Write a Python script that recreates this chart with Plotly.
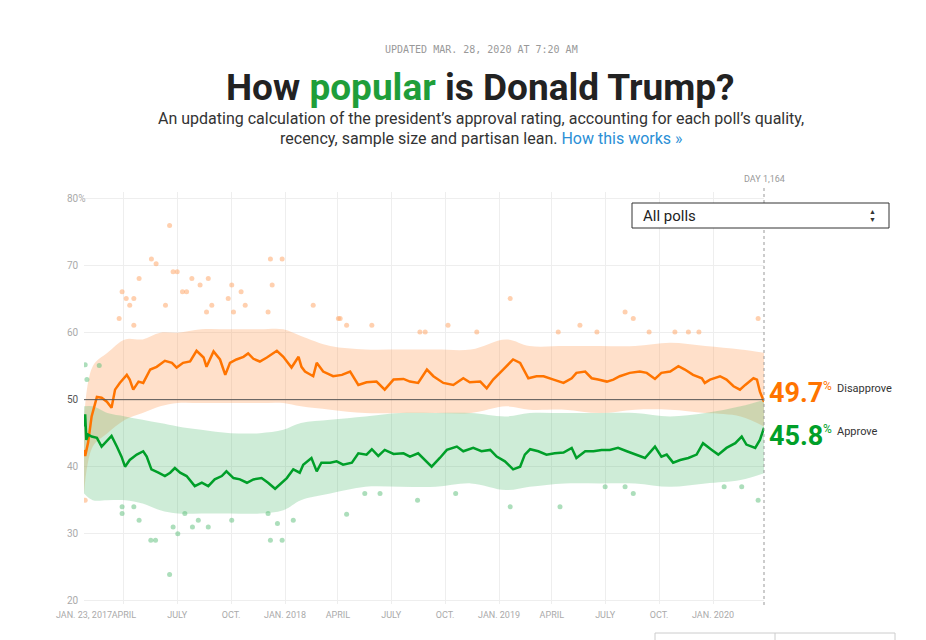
import pandas as pd
import plotly.graph_objects as go

# ---------------- data ----------------
START = "2017-01-23"

disapprove_day = [0, 2, 7, 13, 22, 30, 39, 47, 53, 61, 73, 78, 84, 93, 101, 113, 124, 138, 150, 158,
                  169, 181, 192, 204, 209, 221, 232, 241, 249, 260, 272, 280, 289, 300, 312, 329, 340,
                  354, 366, 371, 377, 391, 397, 408, 425, 440, 454, 468, 482, 499, 513, 528, 545, 556,
                  570, 585, 596, 613, 630, 647, 658, 676, 687, 698, 715, 732, 744, 758, 772, 784, 801,
                  818, 832, 840, 855, 866, 877, 892, 903, 914, 931, 948, 960, 974, 985, 1000, 1014,
                  1025, 1039, 1054, 1059, 1068, 1085, 1096, 1108, 1119, 1128, 1142, 1148, 1153, 1160]
disapprove_val = [42.5, 41.6, 43.6, 47.5, 50.4, 50.3, 49.7, 48.8, 51.5, 52.5, 53.7, 53.0, 51.5, 52.7,
                  52.5, 54.5, 54.9, 55.8, 55.5, 54.8, 55.5, 55.7, 57.3, 56.3, 54.9, 57.2, 56.0, 53.7,
                  55.5, 56.0, 56.4, 56.9, 56.1, 55.7, 56.3, 57.3, 56.4, 54.8, 56.4, 54.9, 54.2, 53.5,
                  55.5, 54.2, 53.5, 53.7, 54.2, 52.2, 52.6, 52.7, 51.5, 53.0, 53.1, 52.7, 52.5, 54.5,
                  53.5, 52.5, 52.2, 53.2, 52.6, 52.7, 51.7, 53.0, 54.5, 56.0, 55.5, 53.2, 53.5, 53.5,
                  53.0, 52.5, 53.2, 54.0, 54.2, 53.2, 53.0, 52.7, 53.0, 53.5, 54.0, 54.2, 54.0, 53.1,
                  54.0, 54.2, 55.0, 54.5, 53.7, 53.2, 52.5, 53.0, 53.5, 53.0, 52.0, 51.5, 52.2, 53.2,
                  53.0, 51.2, 49.7]

approve_day = [0, 2, 4, 7, 13, 22, 30, 39, 47, 56, 64, 70, 78, 90, 101, 107, 115, 127, 138, 147, 155,
               164, 175, 189, 201, 212, 223, 235, 243, 255, 266, 278, 289, 303, 314, 326, 334, 346,
               357, 368, 374, 388, 397, 405, 420, 431, 442, 457, 468, 482, 491, 502, 513, 528, 545,
               556, 570, 585, 593, 607, 619, 636, 647, 664, 678, 693, 704, 718, 732, 744, 752, 761,
               775, 789, 803, 818, 832, 840, 855, 869, 883, 897, 911, 926, 943, 957, 974, 985, 994,
               1005, 1017, 1031, 1045, 1056, 1071, 1082, 1096, 1111, 1122, 1130, 1145, 1153, 1160]
approve_val = [46.0, 47.8, 44.0, 44.8, 44.5, 44.3, 43.0, 43.8, 44.6, 43.0, 41.5, 40.0, 41.0, 41.8, 42.3,
               41.5, 39.6, 39.1, 38.6, 39.1, 39.8, 39.1, 38.6, 37.1, 37.6, 37.1, 38.1, 38.6, 39.3,
               38.3, 38.1, 37.6, 38.1, 38.3, 37.6, 36.7, 37.3, 38.3, 39.6, 39.1, 40.3, 41.3, 39.3,
               40.6, 40.6, 40.8, 40.3, 40.6, 42.0, 41.8, 42.6, 41.6, 42.5, 41.9, 42.0, 41.5, 42.0,
               40.6, 40.0, 41.3, 42.5, 43.0, 42.3, 42.8, 42.3, 42.5, 41.5, 40.8, 39.6, 40.0, 41.8,
               42.6, 42.3, 41.8, 42.0, 42.1, 42.8, 41.3, 42.3, 42.3, 42.5, 42.5, 42.8, 42.3, 41.8,
               41.3, 43.0, 41.5, 41.8, 40.6, 41.0, 41.3, 41.8, 43.5, 42.5, 41.8, 42.8, 43.5, 44.5,
               43.3, 42.8, 44.0, 45.8]

# envelope of the poll clouds
band_day = [0, 15, 40, 70, 100, 130, 160, 200, 250, 300, 340, 370, 420, 480, 540, 600, 660, 720,
            760, 820, 880, 940, 1000, 1060, 1120, 1160]
dis_band_hi = [47, 55, 57, 59, 59, 60, 60, 60.5, 60.5, 60.5, 60.5, 59.5, 58, 57.5, 57.5, 57.5, 57.5,
               59, 58, 58, 58, 58, 58.5, 58, 57.5, 57]
dis_band_lo = [36, 43, 45, 47, 48, 49, 49.5, 49.5, 49.5, 49.5, 49.5, 49, 48.5, 48, 48, 48, 48, 49,
               48.5, 48.5, 48, 48.5, 48.5, 48, 47.5, 46]
app_band_hi = [49, 49, 48, 47.5, 47, 46.5, 46, 45.5, 45, 45, 45.5, 46.5, 47, 47.5, 48, 48, 48, 47.5,
               48, 48, 48, 48, 47.5, 48, 49, 50]
app_band_lo = [36, 35, 35, 35, 34.5, 33.5, 33, 33, 33, 33, 33.5, 35, 36, 37, 37, 37, 37.5, 36.5, 37,
               37.5, 37.5, 37.5, 37, 37.5, 38, 39]

# individual outlying polls
dis_dot_day = [146, 115, 123, 152, 159, 94, 184, 212, 198, 252, 318, 338, 321, 65, 168, 175, 268, 72,
               85, 246, 78, 139, 218, 275, 391, 60, 85, 209, 255, 314, 434, 727, 437, 923, 448, 491,
               621, 846, 670, 809, 875, 573, 582, 937, 1150, 964, 1008, 1031, 1049, 2]
dis_dot_val = [76.0, 71.0, 70.3, 69.1, 69.1, 68.1, 68.1, 68.1, 67.1, 67.1, 71.0, 71.0, 67.1, 66.1,
               66.1, 66.1, 66.1, 65.1, 65.1, 65.1, 64.1, 64.1, 64.1, 64.1, 64.1, 62.1, 61.1, 63.1,
               63.1, 63.1, 62.1, 65.1, 62.1, 63.1, 61.1, 61.1, 61.1, 61.1, 60.1, 60.1, 60.1, 60.1,
               60.1, 62.1, 62.1, 60.1, 60.1, 60.1, 60.1, 35.0]
app_dot_day = [146, 114, 122, 160, 152, 185, 212, 94, 252, 318, 338, 330, 357, 65, 85, 65, 172, 195,
               314, 448, 569, 727, 812, 479, 505, 634, 889, 923, 1150, 937, 1092, 1122, 2, 26, 5]
app_dot_val = [23.9, 29.0, 29.0, 30.0, 31.0, 31.0, 31.0, 32.0, 32.0, 29.0, 29.0, 31.5, 32.0, 34.0,
               34.0, 33.0, 33.0, 32.0, 33.0, 32.9, 35.0, 34.0, 34.0, 36.0, 36.0, 36.0, 37.0, 37.0,
               35.0, 36.0, 37.0, 37.0, 55.2, 55.1, 53.0]

tick_dates = ["2017-01-23", "2017-04-01", "2017-07-01", "2017-10-01", "2018-01-01", "2018-04-01",
              "2018-07-01", "2018-10-01", "2019-01-01", "2019-04-01", "2019-07-01", "2019-10-01",
              "2020-01-01"]
tick_text = ["JAN. 23, 2017", "APRIL", "JULY", "OCT.", "JAN. 2018", "APRIL", "JULY", "OCT.",
             "JAN. 2019", "APRIL", "JULY", "OCT.", "JAN. 2020"]
y_ticks = [20, 30, 40, 50, 60, 70, 80]

# ---------------- helpers ----------------
base = pd.Timestamp(START)
def to_dates(days):
    return base + pd.to_timedelta(days, unit="D")

ORANGE = "#ff7400"
GREEN = "#009f29"

FIG_W, FIG_H, OFF = 910, 632, 8
L, R, T = 76, 154, 184
PW = FIG_W - L - R
PH = 412
B = FIG_H - T - PH

def PX(xp):
    return (xp - OFF - L) / PW

def PY(yp):
    return (FIG_H - B - (yp - OFF)) / PH

fig = go.Figure()

# clouds
for hi, lo, col in [(dis_band_hi, dis_band_lo, "rgba(255,160,95,0.33)"),
                    (app_band_hi, app_band_lo, "rgba(80,185,110,0.28)")]:
    bd = to_dates(band_day)
    fig.add_trace(go.Scatter(x=bd, y=lo, mode="lines", line=dict(width=0, shape="spline"),
                             hoverinfo="skip", showlegend=False))
    fig.add_trace(go.Scatter(x=bd, y=hi, mode="lines", line=dict(width=0, shape="spline"),
                             fill="tonexty", fillcolor=col, hoverinfo="skip", showlegend=False))

fig.add_trace(go.Scatter(x=to_dates(dis_dot_day), y=dis_dot_val, mode="markers",
                         marker=dict(size=5, color="rgba(255,170,110,0.55)"),
                         hoverinfo="skip", showlegend=False))
fig.add_trace(go.Scatter(x=to_dates(app_dot_day), y=app_dot_val, mode="markers",
                         marker=dict(size=5, color="rgba(90,190,120,0.5)"),
                         hoverinfo="skip", showlegend=False))

fig.add_trace(go.Scatter(x=to_dates(disapprove_day), y=disapprove_val, mode="lines",
                         line=dict(color=ORANGE, width=2.5), name="Disapprove", showlegend=False))
fig.add_trace(go.Scatter(x=to_dates(approve_day), y=approve_val, mode="lines",
                         line=dict(color=GREEN, width=2.5), name="Approve", showlegend=False))

x0 = to_dates([0])[0]
x1 = to_dates([1160])[0]

shapes = [
    dict(type="line", xref="x", yref="y", x0=x0, x1=x1, y0=50, y1=50,
         line=dict(color="#555", width=1)),
    dict(type="line", xref="paper", yref="paper", x0=PX(764), x1=PX(764), y0=PY(188), y1=PY(608),
         line=dict(color="#999", width=1, dash="dot")),
    dict(type="rect", xref="paper", yref="paper", x0=PX(632), x1=PX(889), y0=PY(203), y1=PY(228),
         line=dict(color="#333", width=1), fillcolor="white"),
    dict(type="rect", xref="paper", yref="paper", x0=PX(655), x1=PX(895), y0=PY(633), y1=PY(646),
         line=dict(color="#ccc", width=1)),
    dict(type="line", xref="paper", yref="paper", x0=PX(775), x1=PX(775), y0=PY(633), y1=PY(646),
         line=dict(color="#ccc", width=1)),
]

ann = []
def add(text, xp, yp, size, color, xanchor="center", family="Roboto", weight=None, yanchor="middle"):
    f = dict(family=family, size=size, color=color)
    if weight:
        f["weight"] = weight
    ann.append(dict(text=text, x=PX(xp), y=PY(yp), xref="paper", yref="paper", showarrow=False,
                    xanchor=xanchor, yanchor=yanchor, font=f))

add("UPDATED MAR. 28, 2020 AT 7:20 AM", 481, 50, 10, "#999", family="DejaVu Sans Mono")
add(f'How <span style="color:#1f9e3a">popular</span> is Donald Trump?', 480, 88, 37, "#222",
    weight=700)
add("An updating calculation of the president’s approval rating, accounting for each poll’s quality,",
    481, 118, 16, "#333")
add('recency, sample size and partisan lean. <span style="color:#2b8fd6">How this works »</span>',
    481, 138, 16, "#333")
add("DAY 1,164", 764, 179, 9, "#999")
add("All polls", 641, 216, 15, "#222", xanchor="left")
add("▲", 872, 212, 7, "#333")
add("▼", 872, 220, 7, "#333")
add("49.7", 767, 393, 27, ORANGE, xanchor="left", weight=700)
add("%", 821, 386, 12, ORANGE, xanchor="left")
add("Disapprove", 835, 388, 11, "#333", xanchor="left")
add("45.8", 767, 436, 27, GREEN, xanchor="left", weight=700)
add("%", 821, 429, 12, GREEN, xanchor="left")
add("Approve", 835, 431, 11, "#333", xanchor="left")

for v in y_ticks:
    yp = 600.7 - (v - 20) * 6.7
    label = f"{v}%" if v == 80 else f"{v}"
    add(label, 65, yp, 10, "#555" if v == 50 else "#aaa", xanchor="left")

fig.update_layout(
    width=FIG_W, height=FIG_H,
    margin=dict(l=L, r=R, t=T, b=B, autoexpand=False),
    paper_bgcolor="white", plot_bgcolor="white",
    shapes=shapes, annotations=ann,
    xaxis=dict(range=[x0, x1], tickvals=pd.to_datetime(tick_dates), ticktext=tick_text,
               tickangle=0, automargin=False, ticklabelstandoff=4,
               showgrid=True, gridcolor="#eeeeee", gridwidth=1, zeroline=False, showline=False,
               ticks="", tickfont=dict(family="Roboto", size=9, color="#aaa")),
    yaxis=dict(range=[19.5, 81], tickvals=y_ticks, showticklabels=False, showgrid=True,
               automargin=False,
               gridcolor="#eeeeee", gridwidth=1, zeroline=False, showline=False, ticks=""),
    font=dict(family="Roboto"),
)

fig.write_html("out.html")
